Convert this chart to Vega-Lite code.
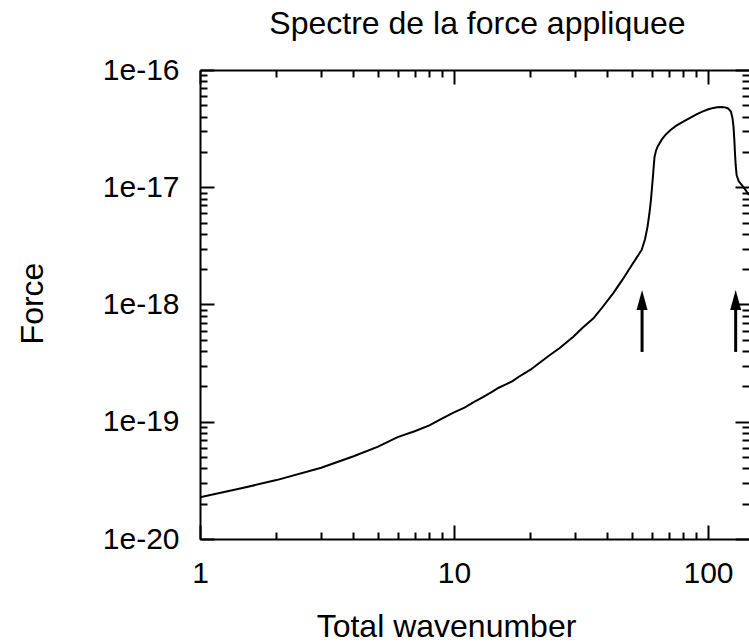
{
  "$schema": "https://vega.github.io/schema/vega-lite/v6.json",
  "width": 549,
  "height": 469,
  "autosize": {"type": "none"},
  "padding": {"left": 200, "top": 70, "right": 0, "bottom": 105},
  "background": "white",
  "config": {
    "view": {"stroke": null},
    "font": "Liberation Sans",
    "axis": {
      "grid": false,
      "domainColor": "black",
      "domainWidth": 2,
      "tickColor": "black",
      "tickWidth": 2,
      "labelColor": "black",
      "labelFont": "Liberation Sans",
      "labelFontSize": 30,
      "labelOverlap": false,
      "labelFlush": false,
      "labelBound": false,
      "titleColor": "black",
      "titleFont": "Liberation Sans",
      "titleFontSize": 32,
      "titleFontWeight": "normal"
    }
  },
  "datasets": {
    "spectrum": [
      {"k": 1, "f": 2.27e-20},
      {"k": 1.5, "f": 2.75e-20},
      {"k": 2, "f": 3.18e-20},
      {"k": 3, "f": 4.05e-20},
      {"k": 4, "f": 5.05e-20},
      {"k": 5, "f": 6.1e-20},
      {"k": 6, "f": 7.4e-20},
      {"k": 7, "f": 8.3e-20},
      {"k": 8, "f": 9.3e-20},
      {"k": 9, "f": 1.07e-19},
      {"k": 10, "f": 1.2e-19},
      {"k": 11, "f": 1.32e-19},
      {"k": 12, "f": 1.48e-19},
      {"k": 13, "f": 1.62e-19},
      {"k": 14, "f": 1.78e-19},
      {"k": 15, "f": 1.95e-19},
      {"k": 16, "f": 2.08e-19},
      {"k": 17, "f": 2.22e-19},
      {"k": 18, "f": 2.42e-19},
      {"k": 19, "f": 2.6e-19},
      {"k": 20, "f": 2.78e-19},
      {"k": 22, "f": 3.25e-19},
      {"k": 24, "f": 3.75e-19},
      {"k": 26, "f": 4.23e-19},
      {"k": 29.5, "f": 5.31e-19},
      {"k": 32, "f": 6.3e-19},
      {"k": 35.4, "f": 7.62e-19},
      {"k": 38, "f": 9.2e-19},
      {"k": 42.3, "f": 1.245e-18},
      {"k": 46, "f": 1.62e-18},
      {"k": 49.2, "f": 2.04e-18},
      {"k": 52, "f": 2.45e-18},
      {"k": 54.8, "f": 2.92e-18},
      {"k": 56.5, "f": 3.6e-18},
      {"k": 57.8, "f": 4.61e-18},
      {"k": 58.8, "f": 6.0e-18},
      {"k": 59.6, "f": 7.78e-18},
      {"k": 60.2, "f": 1.0e-17},
      {"k": 60.7, "f": 1.23e-17},
      {"k": 61.2, "f": 1.55e-17},
      {"k": 61.6, "f": 1.82e-17},
      {"k": 62.4, "f": 2.05e-17},
      {"k": 63.3, "f": 2.22e-17},
      {"k": 65.8, "f": 2.56e-17},
      {"k": 68, "f": 2.8e-17},
      {"k": 71.2, "f": 3.08e-17},
      {"k": 75, "f": 3.35e-17},
      {"k": 79.9, "f": 3.62e-17},
      {"k": 85, "f": 3.9e-17},
      {"k": 90, "f": 4.18e-17},
      {"k": 95, "f": 4.42e-17},
      {"k": 100.3, "f": 4.62e-17},
      {"k": 105, "f": 4.75e-17},
      {"k": 108.8, "f": 4.81e-17},
      {"k": 113, "f": 4.83e-17},
      {"k": 116.7, "f": 4.8e-17},
      {"k": 120, "f": 4.7e-17},
      {"k": 123.1, "f": 4.41e-17},
      {"k": 124.8, "f": 3.9e-17},
      {"k": 126, "f": 3.29e-17},
      {"k": 127, "f": 2.5e-17},
      {"k": 127.7, "f": 1.95e-17},
      {"k": 128.5, "f": 1.55e-17},
      {"k": 129.6, "f": 1.27e-17},
      {"k": 132, "f": 1.13e-17},
      {"k": 135.7, "f": 1.05e-17},
      {"k": 140, "f": 9.6e-18},
      {"k": 145, "f": 8.6e-18}
    ],
    "arrows": [
      {"k": 55, "y1": 3.94e-19, "y2": 1.0e-18, "yh": 1.093e-18},
      {"k": 128.5, "y1": 3.94e-19, "y2": 1.0e-18, "yh": 1.093e-18}
    ]
  },
  "layer": [
    {
      "data": {"name": "spectrum"},
      "mark": {"type": "line", "color": "black", "strokeWidth": 2, "clip": true},
      "encoding": {
        "x": {
          "field": "k",
          "type": "quantitative",
          "scale": {"type": "log", "domain": [1, 145], "nice": false},
          "axis": {
            "orient": "bottom",
            "values": [1, 2, 3, 4, 5, 6, 7, 8, 9, 10, 20, 30, 40, 50, 60, 70, 80, 90, 100],
            "tickSize": {"condition": {"test": "datum.value==1||datum.value==10||datum.value==100", "value": -14}, "value": -7},
            "labelExpr": "(datum.value==1||datum.value==10||datum.value==100) ? (datum.value + '') : ''",
            "labelPadding": 33,
            "title": "Total wavenumber",
            "titleBaseline": "alphabetic",
            "titleAlign": "center",
            "titleAnchor": null,
            "titleX": 246,
            "titleY": 97
          }
        },
        "y": {
          "field": "f",
          "type": "quantitative",
          "scale": {"type": "log", "domain": [1e-20, 1e-16], "nice": false},
          "axis": {
            "orient": "left",
            "values": [1e-20, 2e-20, 3e-20, 4e-20, 5e-20, 6e-20, 7e-20, 8e-20, 9e-20, 1e-19, 2e-19, 3e-19, 4e-19, 5e-19, 6e-19, 7e-19, 8e-19, 9e-19, 1e-18, 2e-18, 3e-18, 4e-18, 5e-18, 6e-18, 7e-18, 8e-18, 9e-18, 1e-17, 2e-17, 3e-17, 4e-17, 5e-17, 6e-17, 7e-17, 8e-17, 9e-17, 1e-16],
            "tickSize": {"condition": {"test": "abs(log(datum.value)/LN10 - round(log(datum.value)/LN10)) < 0.001", "value": -14}, "value": -7},
            "labelExpr": "abs(log(datum.value)/LN10 - round(log(datum.value)/LN10)) < 0.001 ? ('1e-' + round(-log(datum.value)/LN10)) : ''",
            "labelPadding": 35,
            "title": "Force",
            "titleBaseline": "alphabetic",
            "titleAlign": "center",
            "titleAngle": -90,
            "titleAnchor": null,
            "titleX": -158,
            "titleY": 233
          }
        }
      }
    },
    {
      "data": {"name": "spectrum"},
      "mark": {"type": "line", "color": "black", "strokeWidth": 2, "strokeOpacity": 0, "clip": true},
      "encoding": {
        "x": {
          "field": "k",
          "type": "quantitative",
          "scale": {"type": "log", "domain": [1, 145], "nice": false},
          "axis": {
            "orient": "top",
            "values": [1, 2, 3, 4, 5, 6, 7, 8, 9, 10, 20, 30, 40, 50, 60, 70, 80, 90, 100],
            "tickSize": {"condition": {"test": "datum.value==1||datum.value==10||datum.value==100", "value": -14}, "value": -7},
            "labels": false,
            "title": "Spectre de la force appliquee",
            "titleBaseline": "alphabetic",
            "titleAlign": "center",
            "titleAnchor": null,
            "titleX": 277,
            "titleY": -37
          }
        },
        "y": {
          "field": "f",
          "type": "quantitative",
          "scale": {"type": "log", "domain": [1e-20, 1e-16], "nice": false},
          "axis": {
            "orient": "right",
            "values": [1e-20, 2e-20, 3e-20, 4e-20, 5e-20, 6e-20, 7e-20, 8e-20, 9e-20, 1e-19, 2e-19, 3e-19, 4e-19, 5e-19, 6e-19, 7e-19, 8e-19, 9e-19, 1e-18, 2e-18, 3e-18, 4e-18, 5e-18, 6e-18, 7e-18, 8e-18, 9e-18, 1e-17, 2e-17, 3e-17, 4e-17, 5e-17, 6e-17, 7e-17, 8e-17, 9e-17, 1e-16],
            "tickSize": {"condition": {"test": "abs(log(datum.value)/LN10 - round(log(datum.value)/LN10)) < 0.001", "value": -14}, "value": -7},
            "labels": false,
            "domain": false,
            "title": null
          }
        }
      }
    },
    {
      "data": {"name": "arrows"},
      "mark": {"type": "rule", "color": "black", "strokeWidth": 3},
      "encoding": {
        "x": {"field": "k", "type": "quantitative", "scale": {"type": "log", "domain": [1, 145], "nice": false}, "axis": null},
        "y": {"field": "y1", "type": "quantitative", "scale": {"type": "log", "domain": [1e-20, 1e-16], "nice": false}, "axis": null},
        "y2": {"field": "y2"}
      }
    },
    {
      "data": {"name": "arrows"},
      "mark": {"type": "point", "shape": "M0,-1L0.55,1L-0.55,1Z", "size": 400, "filled": true, "color": "black", "opacity": 1, "strokeWidth": 0},
      "encoding": {
        "x": {"field": "k", "type": "quantitative", "scale": {"type": "log", "domain": [1, 145], "nice": false}, "axis": null},
        "y": {"field": "yh", "type": "quantitative", "scale": {"type": "log", "domain": [1e-20, 1e-16], "nice": false}, "axis": null}
      }
    }
  ],
  "resolve": {"axis": {"x": "independent", "y": "independent"}}
}
